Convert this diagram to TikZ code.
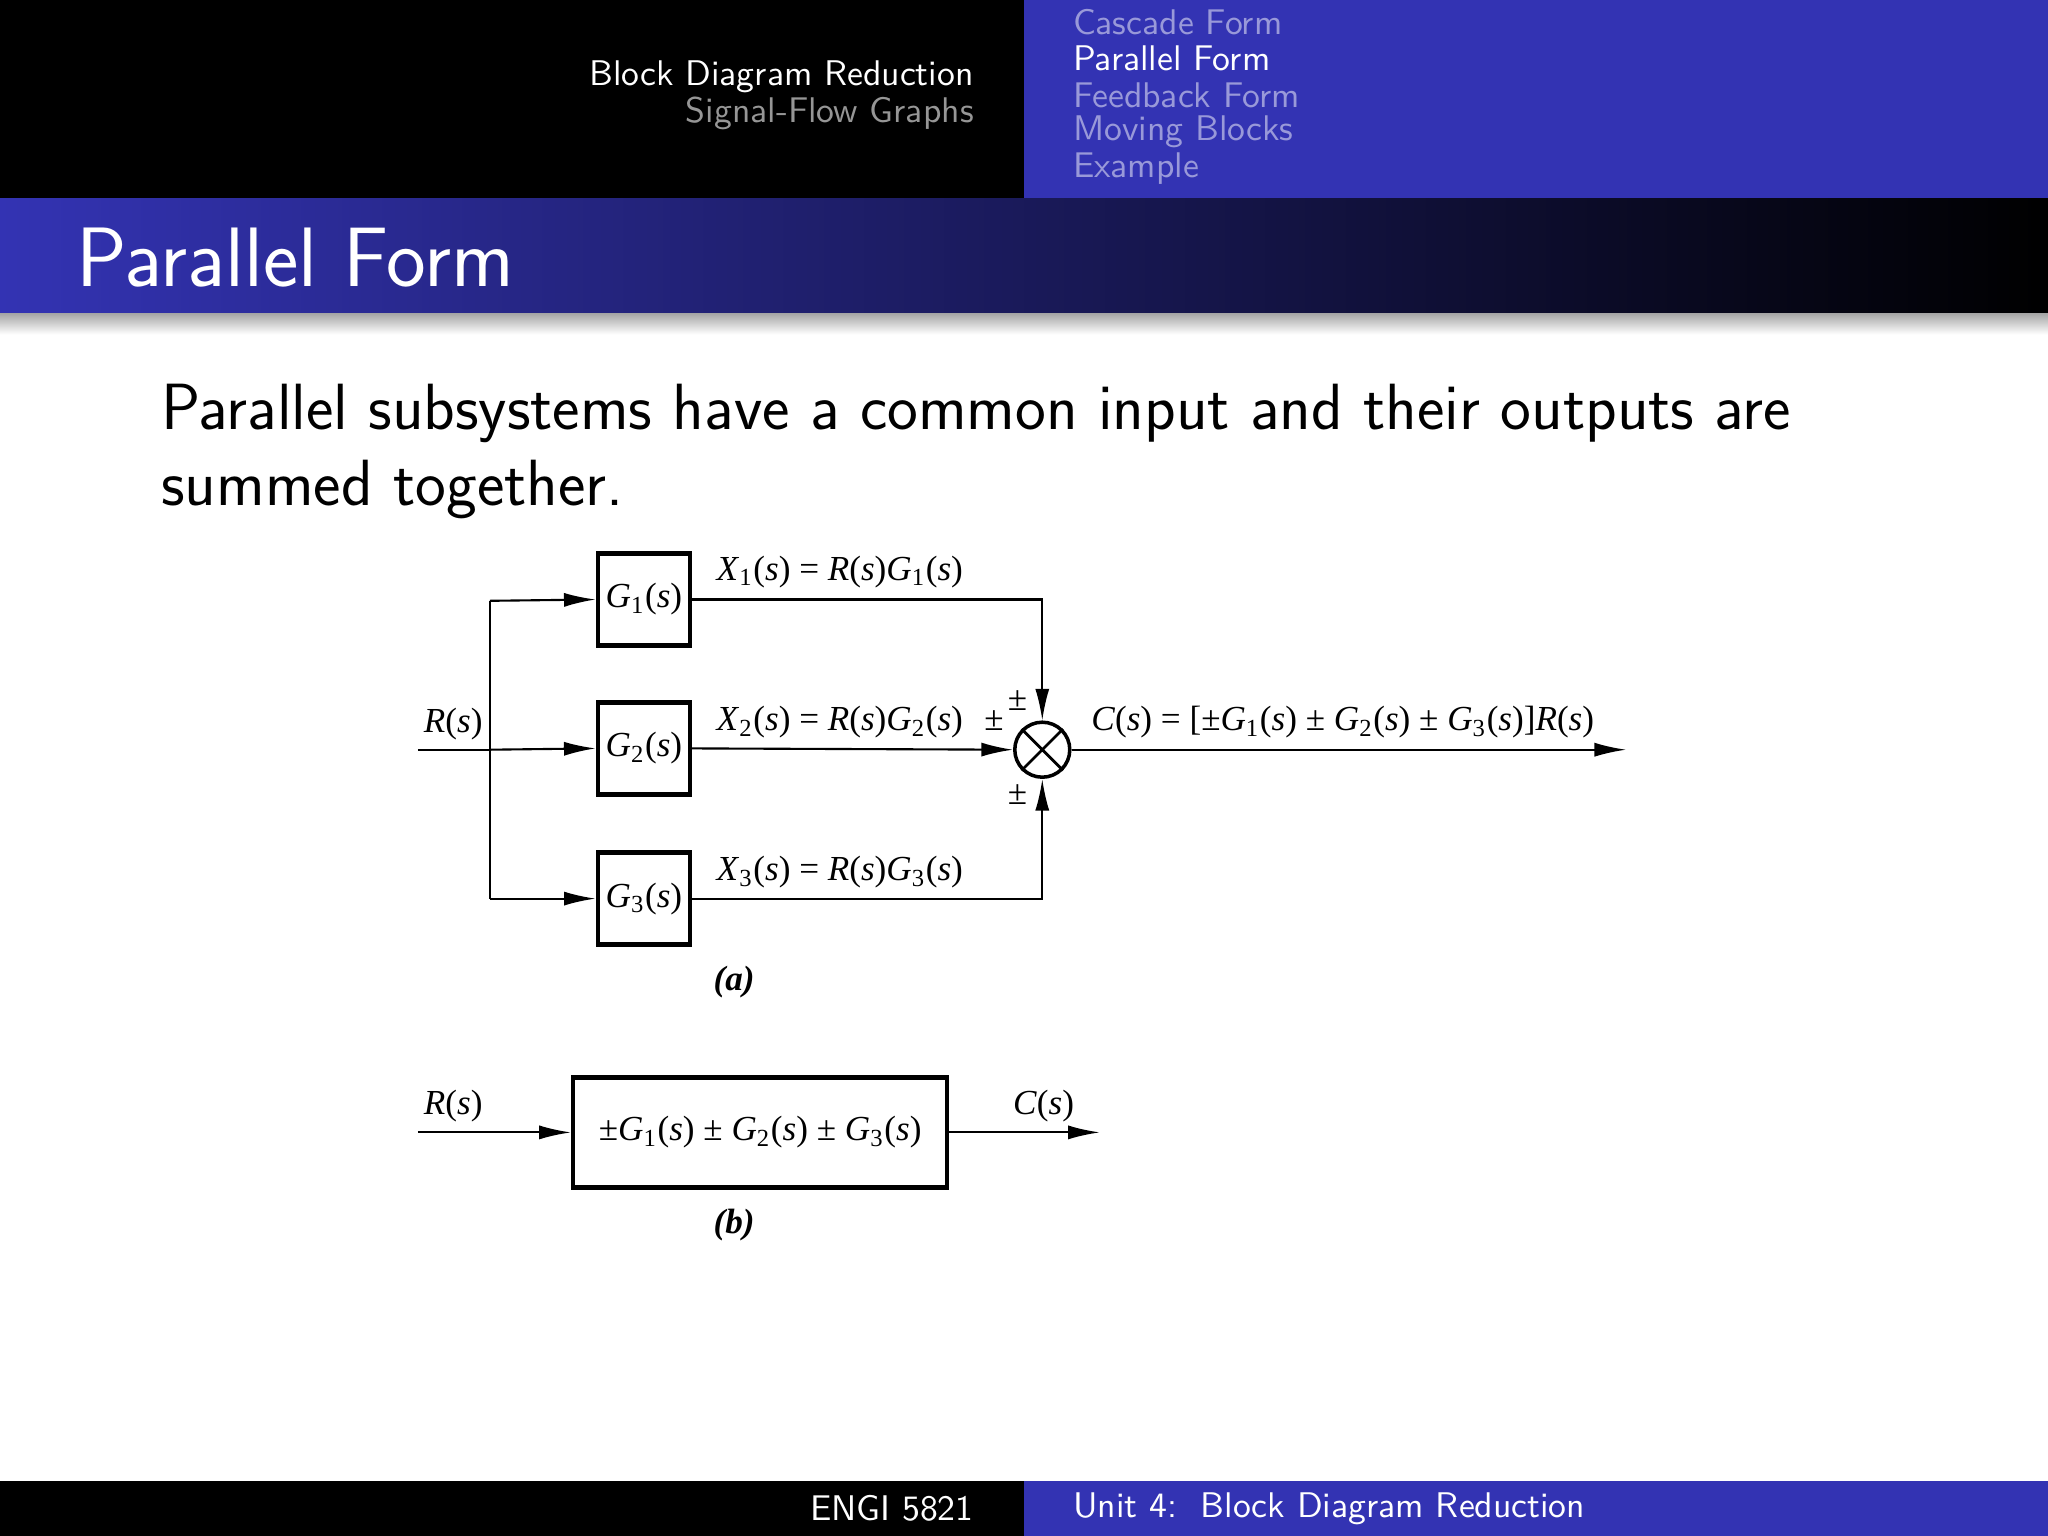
\documentclass[tikz,border=0pt]{standalone}
\usepackage{fontspec}
\newfontfamily\dfont{Liberation Serif}
\usetikzlibrary{arrows.meta}
\definecolor{bblue}{RGB}{51,51,179}
\definecolor{lblue}{RGB}{153,153,217}
\definecolor{lgray}{RGB}{150,150,150}
\newcommand\Gs[1]{\textit{G}\textsubscript{#1}(\textit{s})}
\newcommand\Xs[1]{\textit{X}\textsubscript{#1}(\textit{s})}
\newcommand\Rs{\textit{R}(\textit{s})}
\newcommand\Cs{\textit{C}(\textit{s})}
\begin{document}
\begin{tikzpicture}[x=0.013061cm,y=-0.013061cm,
  hd/.style={font=\sffamily\fontsize{10.15pt}{12pt}\selectfont,inner sep=0pt},
  blk/.style={draw,line width=1.3pt,inner sep=0pt},
  dl/.style={font=\dfont\fontsize{10pt}{12pt}\selectfont,inner sep=1pt},
  sig/.style={line width=0.6pt},
  arr/.style={sig,-{Latex[length=9pt,width=4pt]}}]
\useasboundingbox (0,0) rectangle (1568,1176);
% header
\fill[black] (0,0) rectangle (784,152);
\fill[bblue] (784,0) rectangle (1568,152);
\node[hd,white,anchor=east] (h1) at (746,59) {Block Diagram Reduction};
\node[hd,lgray,anchor=east] (h2) at (746,87) {Signal-Flow Graphs};
\node[hd,lblue,anchor=west] (s1) at (821,17) {Cascade Form};
\node[hd,white,anchor=west] (s2) at (821,45) {Parallel Form};
\node[hd,lblue,anchor=west] (s3) at (821,73) {Feedback Form};
\node[hd,lblue,anchor=west] (s4) at (821,101) {Moving Blocks};
\node[hd,lblue,anchor=west] (s5) at (821,129) {Example};
% title bar
\shade[left color=bblue,right color=black] (0,152) rectangle (1568,240);
\shade[top color=black!35,bottom color=white] (0,240) rectangle (1568,256);
\node[font=\sffamily\fontsize{24pt}{28pt}\selectfont,white,anchor=west,inner sep=0pt] (title) at (58,197) {Parallel Form};
% body
\node[font=\sffamily\fontsize{18.6pt}{22pt}\selectfont,anchor=base west,inner sep=0pt] (b1) at (123,329) {Parallel subsystems have a common input and their outputs are};
\node[font=\sffamily\fontsize{18.6pt}{22pt}\selectfont,anchor=base west,inner sep=0pt] (b2) at (123,387) {summed together.};
% footer
\fill[black] (0,1134) rectangle (784,1176);
\fill[bblue] (784,1134) rectangle (1568,1176);
\node[hd,white,anchor=east] (f1) at (746,1155) {ENGI 5821};
\node[hd,white,anchor=west] (f2) at (821,1155) {Unit 4:\ \ Block Diagram Reduction};
% diagram (a)
\node[blk,minimum width=0.92cm,minimum height=0.92cm,dl] (G1) at (493,459) {\Gs{1}};
\node[blk,minimum width=0.92cm,minimum height=0.92cm,dl] (G2) at (493,573) {\Gs{2}};
\node[blk,minimum width=0.92cm,minimum height=0.92cm,dl] (G3) at (493,688) {\Gs{3}};
\node[draw,circle,line width=1pt,minimum size=0.55cm,inner sep=0pt] (S) at (798,574) {};
\draw[line width=0.8pt] (S.45)--(S.225) (S.135)--(S.315);
\coordinate (in) at (320,574);
\coordinate (br) at (375,574);
\coordinate (out) at (1245,574);
\draw[sig] (in)--(br);
\draw[sig] (375,460)--(375,688);
\draw[arr] (br)--(G2.west);
\draw[arr] (375,460)--(G1.west);
\draw[arr] (375,688)--(G3.west);
\draw[arr] (G1.east)-|(S.north);
\draw[arr] (G3.east)-|(S.south);
\draw[arr] (G2.east)--(S.west);
\draw[arr] (S.east)--(out);
\node[dl] (lr) at (347,554) {\Rs};
\node[dl] (lx1) at (643,438) {\Xs{1} = \Rs\Gs{1}};
\node[dl] (lx2) at (643,553) {\Xs{2} = \Rs\Gs{2}};
\node[dl] (lx3) at (643,668) {\Xs{3} = \Rs\Gs{3}};
\node[dl] (p1) at (779,536) {±};
\node[dl] (p2) at (761,552) {±};
\node[dl] (p3) at (779,608) {±};
\node[dl] (lc) at (1028,553) {\Cs\ = [±\Gs{1} ± \Gs{2} ± \Gs{3}]\Rs};
\node[dl] (la) at (562,752) {\textbf{\textit{(a)}}};
% diagram (b)
\node[blk,minimum width=3.74cm,minimum height=1.1cm,dl] (G) at (582,867) {±\Gs{1} ± \Gs{2} ± \Gs{3}};
\coordinate (inb) at (320,867);
\coordinate (outb) at (842,867);
\draw[arr] (inb)--(G.west);
\draw[arr] (G.east)--(outb);
\node[dl] (lrb) at (347,847) {\Rs};
\node[dl] (lcb) at (799,847) {\Cs};
\node[dl] (lb) at (562,938) {\textbf{\textit{(b)}}};
\end{tikzpicture}
\end{document}
